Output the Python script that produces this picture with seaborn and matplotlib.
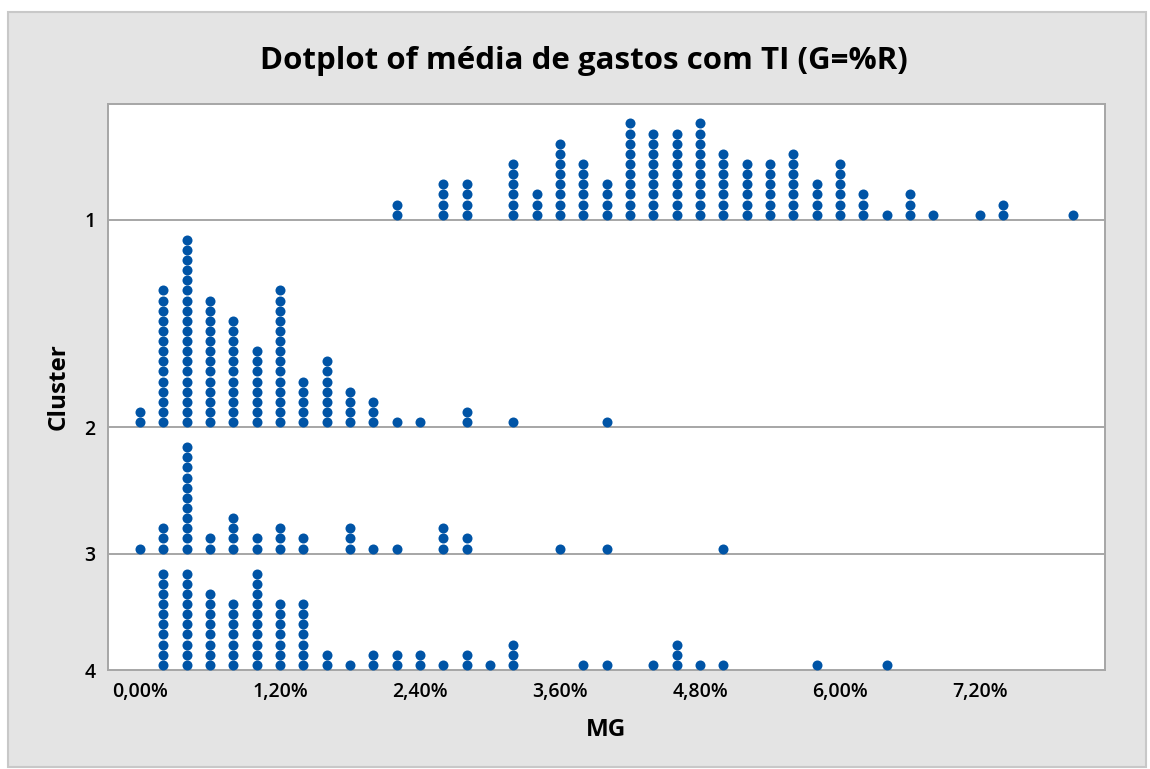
import numpy as np
import pandas as pd
import matplotlib
matplotlib.use("Agg")
import matplotlib.pyplot as plt
import seaborn as sns
from matplotlib.patches import Rectangle

# Binned values of MG (in %) and the number of observations per bin, by cluster
clusters = ["1", "2", "3", "4"]

mg_c1 = [2.2, 2.6, 2.8, 3.2, 3.4, 3.6, 3.8, 4.0, 4.2, 4.4, 4.6, 4.8, 5.0,
         5.2, 5.4, 5.6, 5.8, 6.0, 6.2, 6.4, 6.6, 6.8, 7.2, 7.4, 8.0]
n_c1 = [2, 4, 4, 6, 3, 8, 6, 4, 10, 9, 9, 10, 7,
        6, 6, 7, 4, 6, 3, 1, 3, 1, 1, 2, 1]

mg_c2 = [0.0, 0.2, 0.4, 0.6, 0.8, 1.0, 1.2, 1.4, 1.6, 1.8, 2.0, 2.2, 2.4,
         2.8, 3.2, 4.0]
n_c2 = [2, 14, 19, 13, 11, 8, 14, 5, 7, 4, 3, 1, 1,
        2, 1, 1]

mg_c3 = [0.0, 0.2, 0.4, 0.6, 0.8, 1.0, 1.2, 1.4, 1.8, 2.0, 2.2, 2.6, 2.8,
         3.6, 4.0, 5.0]
n_c3 = [1, 3, 11, 2, 4, 2, 3, 2, 3, 1, 1, 3, 2,
        1, 1, 1]

mg_c4 = [0.2, 0.4, 0.6, 0.8, 1.0, 1.2, 1.4, 1.6, 1.8, 2.0, 2.2, 2.4, 2.6,
         2.8, 3.0, 3.2, 3.8, 4.0, 4.4, 4.6, 4.8, 5.0, 5.8, 6.4]
n_c4 = [10, 10, 8, 7, 10, 7, 7, 2, 1, 2, 2, 2, 1,
        2, 1, 3, 1, 1, 1, 3, 1, 1, 1, 1]

x_ticks = [0.0, 1.2, 2.4, 3.6, 4.8, 6.0, 7.2]

# ---- layout of the stacked panels (vertical units ~ pixels) ----
STEP = 10.2        # distance between stacked dots
PAD = 15.0         # free space above the tallest stack of a panel
DOT_OFFSET = 5.2   # centre of the first dot above its baseline

series = {"1": (mg_c1, n_c1), "2": (mg_c2, n_c2),
          "3": (mg_c3, n_c3), "4": (mg_c4, n_c4)}

# panels are stacked bottom-up: cluster 4 at the bottom, cluster 1 on top
baselines = {}
level = 0.0
for c in reversed(clusters):
    baselines[c] = level
    level += max(series[c][1]) * STEP + PAD
y_top = level

rows = []
for c in clusters:
    xs, ns = series[c]
    for x, n in zip(xs, ns):
        for k in range(n):
            rows.append({"Cluster": c, "MG": x,
                         "ypos": baselines[c] + DOT_OFFSET + k * STEP})
df = pd.DataFrame(rows)

# ---- figure ----
sns.set_theme(style="white")
plt.rcParams["font.family"] = ["Open Sans", "DejaVu Sans"]
plt.rcParams["text.color"] = "black"
plt.rcParams["axes.labelcolor"] = "black"

W, H = 1150, 769
fig = plt.figure(figsize=(W / 100, H / 100), dpi=100, facecolor="white")
fig.patches.append(Rectangle((8 / W, 2 / H), (W - 12) / W, (H - 14) / H,
                             transform=fig.transFigure, facecolor="#e4e4e4",
                             edgecolor="#c8c8c8", linewidth=1.5, zorder=-10))

ax = fig.add_axes([108 / W, (H - 670) / H, (1105 - 108) / W, (670 - 103.6) / H])
ax.set_facecolor("white")

# separators between panels
for c in clusters[:-1]:
    ax.axhline(baselines[c], color="#a6a6a6", linewidth=1.4, zorder=1)

sns.scatterplot(data=df, x="MG", y="ypos", ax=ax, color="#0054a6",
                s=52, linewidth=0, zorder=3, legend=False)

ax.set_xlim((108 - 140) / 116.67, (1105 - 140) / 116.67)
ax.set_ylim(0, y_top)

ax.set_xticks(x_ticks)
ax.set_xticklabels([f"{v:.2f}%".replace(".", ",") for v in x_ticks])
ax.set_yticks([baselines[c] for c in clusters])
ax.set_yticklabels(clusters)

for side in ["left", "right", "top", "bottom"]:
    ax.spines[side].set_visible(True)
    ax.spines[side].set_color("#a6a6a6")
    ax.spines[side].set_linewidth(1.4)

ax.tick_params(axis="both", which="both", direction="out", length=6,
               width=1.4, color="#a6a6a6", labelcolor="black",
               labelsize=14, pad=3)
for lab in ax.get_xticklabels() + ax.get_yticklabels():
    lab.set_fontweight("semibold")

ax.set_xlabel("MG", fontsize=17.5, fontweight="bold", labelpad=11, color="black")
ax.set_ylabel("Cluster", fontsize=17.5, fontweight="bold", labelpad=10, color="black")

fig.text(584 / W, 1 - 61 / H, "Dotplot of média de gastos com TI (G=%R)",
         ha="center", va="center", fontsize=22.5, fontweight="bold", color="black")

fig.savefig("out.png", dpi=100, facecolor="white")
